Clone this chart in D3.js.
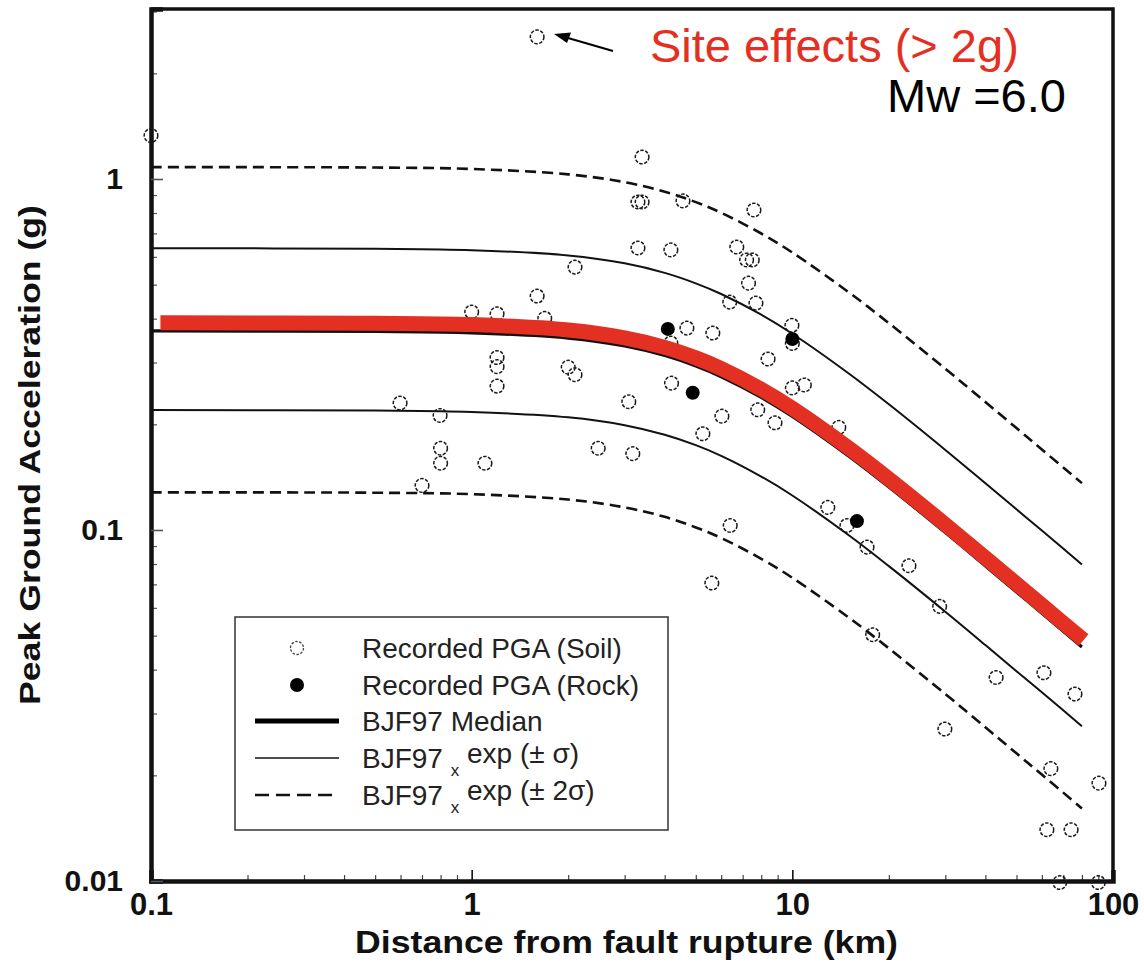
<!DOCTYPE html>
<html>
<head>
<meta charset="utf-8">
<script src="https://cdn.jsdelivr.net/npm/d3@7"></script>
<style>
  body { margin: 0; background: #fff; }
  svg { display: block; font-family: Arial, "Liberation Sans", sans-serif; }
</style>
</head>
<body>
<div id="chart"></div>
<script>
// distances (km) where the BJF97 curves were read
const distKm = [0.1, 0.5, 1, 2, 3, 4, 5, 6, 8, 10, 15, 20, 30, 40, 50, 60, 80];
const median = [0.369, 0.3679, 0.3646, 0.3520, 0.3343, 0.3140, 0.2932, 0.2734, 0.2387, 0.2107, 0.1623, 0.1326, 0.0983, 0.0790, 0.0666, 0.0579, 0.0464];
const plus1  = [0.6347, 0.6328, 0.6271, 0.6054, 0.5750, 0.5401, 0.5043, 0.4702, 0.4106, 0.3624, 0.2792, 0.2281, 0.1691, 0.1359, 0.1146, 0.0996, 0.0798];
const minus1 = [0.2196, 0.2189, 0.2169, 0.2094, 0.1989, 0.1868, 0.1745, 0.1627, 0.1420, 0.1254, 0.0966, 0.0789, 0.0585, 0.0470, 0.0396, 0.0345, 0.0276];
const plus2  = [1.081, 1.078, 1.068, 1.031, 0.9795, 0.920, 0.8591, 0.8011, 0.6994, 0.6174, 0.4755, 0.3885, 0.2880, 0.2315, 0.1951, 0.1696, 0.1360];
const minus2 = [0.1280, 0.1277, 0.1265, 0.1221, 0.1160, 0.1090, 0.1017, 0.0949, 0.0828, 0.0731, 0.0563, 0.0460, 0.0341, 0.0274, 0.0231, 0.0201, 0.0161];

// red highlighted median (hand drawn over the black one)
const redDist = [0.107, 0.5, 1, 2, 3, 4, 5, 6, 8, 10, 15, 20, 30, 40, 50, 60, 81];
const redPga  = [0.3893, 0.3881, 0.3847, 0.3714, 0.3527, 0.3313, 0.3093, 0.2884, 0.2518, 0.2223, 0.1712, 0.1399, 0.1037, 0.0833, 0.0703, 0.0611, 0.0486];

// recorded PGA, soil sites [distance km, pga g]
const soil = [
  [1.60, 2.54], [0.10, 1.33], [3.40, 1.155], [3.30, 0.86], [3.40, 0.86], [4.56, 0.866],
  [7.59, 0.816], [3.30, 0.636], [4.18, 0.628], [6.71, 0.64], [7.2, 0.588], [7.5, 0.588],
  [7.3, 0.505], [2.10, 0.561], [1.60, 0.464], [6.38, 0.446], [7.7, 0.443], [1.0, 0.418],
  [1.20, 0.413], [1.69, 0.401], [4.69, 0.376], [5.65, 0.364], [4.18, 0.341], [8.4, 0.307],
  [1.2, 0.31], [1.2, 0.292], [1.2, 0.257], [2.0, 0.291], [2.1, 0.277], [4.2, 0.262],
  [3.09, 0.232], [0.598, 0.23], [0.797, 0.212], [6.03, 0.211], [7.8, 0.22], [8.83, 0.202],
  [5.26, 0.188], [0.8, 0.171], [0.8, 0.155], [1.10, 0.155], [2.48, 0.171], [3.18, 0.165],
  [0.70, 0.134], [6.4, 0.103], [5.61, 0.0706], [9.97, 0.383], [10.0, 0.34], [10.0, 0.254],
  [10.9, 0.259], [13.96, 0.196], [12.9, 0.116], [14.8, 0.103], [17.1, 0.0894], [23.1, 0.0791],
  [28.8, 0.0606], [17.8, 0.0503], [43.2, 0.038], [60.9, 0.0392], [76.1, 0.0341], [29.9, 0.0271],
  [64.0, 0.0209], [90.4, 0.019], [62.2, 0.014], [74.0, 0.014], [68.2, 0.0099], [90.0, 0.0099]
];
// recorded PGA, rock sites
const rock = [[4.09, 0.374], [4.89, 0.246], [10.0, 0.35], [15.9, 0.106]];

const xTicks = [0.1, 1, 10, 100];
const yTicks = [0.01, 0.1, 1];
const legendLabels = ['Recorded PGA (Soil)', 'Recorded PGA (Rock)', 'BJF97 Median', 'BJF97', 'BJF97'];

const width = 1144, height = 965;
const mLeft = 151, mRight = 1113, mTop = 9, mBottom = 881;

const svg = d3.select('#chart').append('svg')
    .attr('width', width)
    .attr('height', height);

svg.append('rect').attr('width', width).attr('height', height).attr('fill', '#fff');

const x = d3.scaleLog().domain([0.1, 100]).range([mLeft, mRight]);
const y = d3.scaleLog().domain([0.01, 3.05]).range([mBottom, mTop]);

// minor ticks for each decade
const minorX = [], minorY = [];
[0.1, 1, 10].forEach(b => { for (let k = 2; k <= 9; k++) minorX.push(b * k); });
[0.01, 0.1, 1].forEach(b => { for (let k = 2; k <= 9; k++) if (b * k <= 3.05) minorY.push(b * k); });

const fmt = d => String(d);

// frame (top + right)
svg.append('path')
    .attr('d', `M${mLeft},${mTop}H${mRight}V${mBottom}`)
    .attr('fill', 'none').attr('stroke', '#111').attr('stroke-width', 3.5);

// x axis
svg.append('g').attr('transform', `translate(0,${mBottom})`)
    .call(d3.axisBottom(x).tickValues(minorX).tickSize(-6).tickFormat(''))
    .call(g => g.select('.domain').remove())
    .call(g => g.selectAll('line').attr('stroke', '#444').attr('stroke-width', 1.2));
const xAxis = svg.append('g').attr('transform', `translate(0,${mBottom})`)
    .call(d3.axisBottom(x).tickValues(xTicks).tickSize(-11).tickPadding(12).tickFormat(fmt));
xAxis.select('.domain').attr('stroke', '#111').attr('stroke-width', 4.5);
xAxis.selectAll('line').attr('stroke', '#111').attr('stroke-width', 1.6);
xAxis.selectAll('text').attr('font-size', 31).attr('font-weight', 'bold')
    .attr('font-family', 'Arial, "Liberation Sans", sans-serif').attr('fill', '#111');

// y axis
svg.append('g').attr('transform', `translate(${mLeft},0)`)
    .call(d3.axisLeft(y).tickValues(minorY).tickSize(-6).tickFormat(''))
    .call(g => g.select('.domain').remove())
    .call(g => g.selectAll('line').attr('stroke', '#555').attr('stroke-width', 1.2));
const yAxis = svg.append('g').attr('transform', `translate(${mLeft},0)`)
    .call(d3.axisLeft(y).tickValues(yTicks).tickSize(-12).tickPadding(28).tickFormat(fmt));
yAxis.select('.domain').attr('stroke', '#111').attr('stroke-width', 4.5);
yAxis.selectAll('line').attr('stroke', '#555').attr('stroke-width', 1.6);
yAxis.selectAll('text').attr('font-size', 30).attr('font-weight', 'bold')
    .attr('font-family', 'Arial, "Liberation Sans", sans-serif').attr('fill', '#111');

// axis titles (the original lettering is wider than Arial, so stretch it)
svg.append('text')
    .attr('x', 355).attr('y', 953)
    .attr('font-size', 31).attr('font-weight', 'bold').attr('fill', '#111')
    .attr('textLength', 543).attr('lengthAdjust', 'spacingAndGlyphs')
    .text('Distance from fault rupture (km)');
svg.append('text')
    .attr('transform', 'translate(40,705) rotate(-90)')
    .attr('font-size', 30).attr('font-weight', 'bold').attr('fill', '#111')
    .attr('textLength', 500).attr('lengthAdjust', 'spacingAndGlyphs')
    .text('Peak Ground Acceleration (g)');

// BJF97 curves
const line = d3.line()
    .x(d => x(d[0]))
    .y(d => y(d[1]))
    .curve(d3.curveCatmullRom.alpha(0.5));
const curves = [
  {vals: plus2, w: 2.6, dash: '11,6'},
  {vals: minus2, w: 2.6, dash: '11,6'},
  {vals: plus1, w: 2, dash: null},
  {vals: minus1, w: 2, dash: null},
  {vals: median, w: 3.2, dash: null}
];
svg.append('g').selectAll('path')
    .data(curves)
    .enter()
    .append('path')
    .attr('d', c => line(distKm.map((d, i) => [d, c.vals[i]])))
    .attr('fill', 'none')
    .attr('stroke', '#111')
    .attr('stroke-width', c => c.w)
    .attr('stroke-dasharray', c => c.dash);

// recorded points
svg.append('g').selectAll('circle')
    .data(soil)
    .enter()
    .append('circle')
    .attr('cx', d => x(d[0]))
    .attr('cy', d => y(d[1]))
    .attr('r', 6.8)
    .attr('fill', 'none')
    .attr('stroke', '#1a1a1a')
    .attr('stroke-width', 1.5)
    .attr('stroke-dasharray', '3.5,1.5');
svg.append('g').selectAll('circle')
    .data(rock)
    .enter()
    .append('circle')
    .attr('cx', d => x(d[0]))
    .attr('cy', d => y(d[1]))
    .attr('r', 7)
    .attr('fill', '#000');

// red highlight
svg.append('path')
    .attr('d', line(redDist.map((d, i) => [d, redPga[i]])))
    .attr('fill', 'none')
    .attr('stroke', '#e33022')
    .attr('stroke-width', 15);

// legend
const lg = svg.append('g');
lg.append('rect')
    .attr('x', 235).attr('y', 617).attr('width', 433).attr('height', 213)
    .attr('fill', '#fff').attr('stroke', '#333').attr('stroke-width', 1.5);
const rowY = [648, 685, 721, 758, 795];
lg.append('circle').attr('cx', 297).attr('cy', rowY[0]).attr('r', 6.5)
    .attr('fill', 'none').attr('stroke', '#444').attr('stroke-width', 1.3).attr('stroke-dasharray', '2.5,1.5');
lg.append('circle').attr('cx', 297).attr('cy', rowY[1]).attr('r', 7).attr('fill', '#000');
lg.append('line').attr('x1', 255).attr('x2', 339).attr('y1', rowY[2]).attr('y2', rowY[2])
    .attr('stroke', '#000').attr('stroke-width', 5);
lg.append('line').attr('x1', 255).attr('x2', 339).attr('y1', rowY[3]).attr('y2', rowY[3])
    .attr('stroke', '#111').attr('stroke-width', 1.6);
lg.append('line').attr('x1', 255).attr('x2', 339).attr('y1', rowY[4]).attr('y2', rowY[4])
    .attr('stroke', '#111').attr('stroke-width', 2.6).attr('stroke-dasharray', '14,7');

const lt = lg.selectAll('text.lab')
    .data(legendLabels)
    .enter()
    .append('text')
    .attr('class', 'lab')
    .attr('x', 362)
    .attr('y', (d, i) => rowY[i])
    .attr('dy', '0.36em')
    .attr('font-size', 28)
    .attr('fill', '#222')
    .text(d => d);
lt.filter((d, i) => i >= 3).each(function(d, i) {
  const t = d3.select(this);
  t.append('tspan').text(' ');
  t.append('tspan').attr('font-size', 17).attr('dy', '0.45em').text('x');
  t.append('tspan').attr('dy', '-0.45em').text(' exp (± ' + (i === 0 ? 'σ)' : '2σ)'));
});

// annotations
svg.append('line')
    .attr('x1', 613).attr('y1', 51).attr('x2', 568).attr('y2', 38)
    .attr('stroke', '#000').attr('stroke-width', 2);
svg.append('path')
    .attr('d', 'M554,34 L571,32.5 L567,43 Z')
    .attr('fill', '#000');
svg.append('text')
    .attr('x', 650).attr('y', 62)
    .attr('font-size', 47).attr('fill', '#e33022')
    .text('Site effects (> 2g)');
svg.append('text')
    .attr('x', 887).attr('y', 112)
    .attr('font-size', 47).attr('fill', '#000')
    .text('Mw =6.0');
</script>
</body>
</html>
